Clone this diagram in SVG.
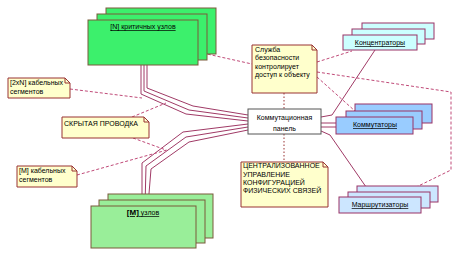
<svg xmlns="http://www.w3.org/2000/svg" width="455" height="253" viewBox="0 0 455 253">
<style>
text{font-family:"Liberation Sans",Arial,sans-serif;font-size:7px;fill:#000}
.g1{fill:#3cf06c;stroke:#7a5a3a;stroke-width:1}
.g2{fill:#99ee99;stroke:#7a5a3a;stroke-width:1}
.b1{fill:#ccffff;stroke:#993366;stroke-width:1}
.b2{fill:#99ccff;stroke:#993366;stroke-width:1}
.b3{fill:#cce6ff;stroke:#993366;stroke-width:1}
.note{fill:#ffffcc;stroke:#993333;stroke-width:1}
.fold{fill:none;stroke:#993333;stroke-width:1}
.w{fill:none;stroke:#a03a66;stroke-width:1}
.d{fill:none;stroke:#c04a78;stroke-width:1;stroke-dasharray:3,2}
.v{fill:none;stroke:#993333;stroke-width:1;stroke-dasharray:1.5,2}
.u{text-decoration:underline}
.c{text-anchor:middle}
</style>
<g id="connectors">
<polyline class="w" points="141,65 141,94 186,114 248,121"/>
<polyline class="w" points="144,65 144,91 189,110 248,118"/>
<polyline class="w" points="147,65 147,88 193,106 248,115"/>
<polyline class="w" points="248,124 183,132 142,163 142,206"/>
<polyline class="w" points="248,127 186,137 146,166 145,206"/>
<polyline class="w" points="248,130 189,142 151,169 148,206"/>
<polyline class="w" points="321,117 332,115 375,50"/>
<line class="w" x1="321" y1="123" x2="336" y2="123"/>
<line class="w" x1="321" y1="127" x2="336" y2="127"/>
<polyline class="w" points="321,131 330,135 373,197"/>
<line class="d" x1="198" y1="52" x2="252" y2="64"/>
<line class="d" x1="70" y1="89" x2="142" y2="98"/>
<line class="d" x1="132" y1="117" x2="166" y2="103"/>
<line class="d" x1="133" y1="138" x2="166" y2="150"/>
<line class="d" x1="77" y1="175" x2="167" y2="150"/>
<line class="d" x1="317" y1="62" x2="352" y2="51"/>
<polyline class="d" points="317,72 451,92 451,170 398,196"/>
<line class="d" x1="317" y1="77" x2="355" y2="111"/>
<line class="v" x1="284" y1="93" x2="284" y2="109"/>
<line class="v" x1="284" y1="134" x2="284" y2="162"/>
</g>
<g id="critical-nodes">
<rect class="g1" x="106" y="8" width="110" height="46"/>
<rect class="g1" x="97" y="14" width="110" height="46"/>
<rect class="g1" x="88" y="20" width="110" height="45"/>
<text class="c u" x="143" y="29">[N] критичных узлов</text>
</g>
<g id="m-nodes">
<rect class="g2" x="108" y="194" width="105" height="44"/>
<rect class="g2" x="99" y="200" width="106" height="43"/>
<rect class="g2" x="91" y="206" width="105" height="42"/>
<text class="c u" x="143" y="215"><tspan font-weight="bold" font-size="8">[M]</tspan> узлов</text>
</g>
<g id="note-2xn">
<path class="note" d="M8,78 H65 L70,83 V98 H8 Z"/>
<path class="fold" d="M65,78 V83 H70"/>
<text x="10" y="85">[2xN] кабельных</text>
<text x="10" y="94">сегментов</text>
</g>
<g id="note-hidden">
<path class="note" d="M62,117 H144 L149,122 V138 H62 Z"/>
<path class="fold" d="M144,117 V122 H149"/>
<text x="64" y="126">СКРЫТАЯ ПРОВОДКА</text>
</g>
<g id="note-m">
<path class="note" d="M17,166 H72 L77,171 V187 H17 Z"/>
<path class="fold" d="M72,166 V171 H77"/>
<text x="19" y="173">[M] кабельных</text>
<text x="19" y="182">сегментов</text>
</g>
<g id="note-security">
<path class="note" d="M252,45 H312 L317,50 V93 H252 Z"/>
<path class="fold" d="M312,45 V50 H317"/>
<text x="255" y="52">Служба</text>
<text x="255" y="60">безопасности</text>
<text x="255" y="69">контролирует</text>
<text x="255" y="77">доступ к объекту</text>
</g>
<g id="panel">
<rect x="248" y="109" width="73" height="25" fill="#ffffff" stroke="#555555" stroke-width="1"/>
<text class="c" x="284.5" y="120" font-size="8.5">Коммутационная</text>
<text class="c" x="284.5" y="131" font-size="8.5">панель</text>
</g>
<g id="note-central">
<path class="note" d="M241,162 H323 L328,167 V207 H241 Z"/>
<path class="fold" d="M323,162 V167 H328"/>
<text x="243" y="168">ЦЕНТРАЛИЗОВАННОЕ</text>
<text x="243" y="177">УПРАВЛЕНИЕ</text>
<text x="243" y="185">КОНФИГУРАЦИЕЙ</text>
<text x="243" y="193">ФИЗИЧЕСКИХ СВЯЗЕЙ</text>
</g>
<g id="concentrators">
<rect class="b1" x="362" y="23" width="72" height="16"/>
<rect class="b1" x="352" y="29" width="73" height="15"/>
<rect class="b1" x="343" y="35" width="74" height="15"/>
<text class="c u" x="380" y="45">Концентраторы</text>
</g>
<g id="switches">
<rect class="b2" x="355" y="104" width="77" height="19"/>
<rect class="b2" x="346" y="111" width="76" height="18"/>
<rect class="b2" x="336" y="117" width="77" height="17"/>
<text class="c u" x="375" y="127">Коммутаторы</text>
</g>
<g id="routers">
<rect class="b3" x="357" y="186" width="81" height="16"/>
<rect class="b3" x="348" y="192" width="82" height="16"/>
<rect class="b3" x="339" y="197" width="82" height="16"/>
<text class="c u" x="380" y="207">Маршрутизаторы</text>
</g>
</svg>
